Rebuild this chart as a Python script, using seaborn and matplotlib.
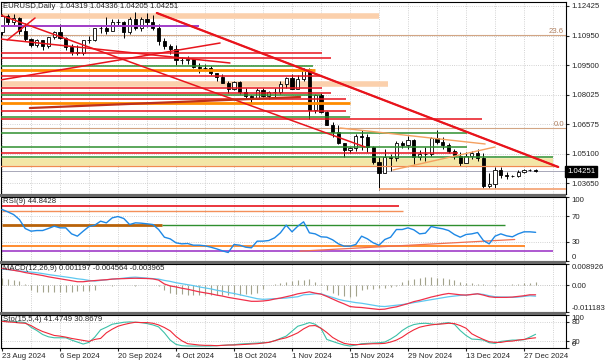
import numpy as np
import pandas as pd
import matplotlib.pyplot as plt
import seaborn as sns
from matplotlib import transforms
from matplotlib.patches import Rectangle

sns.set_style("white")
plt.rcParams['font.family'] = ['Liberation Sans', 'DejaVu Sans']
plt.rcParams['font.size'] = 5.6

# --- DỮ LIỆU: EURUSD Daily ---
dates = pd.bdate_range("2024-08-23", "2024-12-31")
open_ = [1.1112, 1.1193, 1.1161, 1.1184, 1.1118, 1.1077, 1.1048, 1.1074, 1.1045, 1.1087,
         1.1112, 1.1086, 1.1040, 1.1017, 1.1011, 1.1074, 1.1075, 1.1132, 1.1133, 1.1117,
         1.1161, 1.1163, 1.1112, 1.1180, 1.1134, 1.1177, 1.1165, 1.1135, 1.1068, 1.1045,
         1.1032, 1.0975, 1.0975, 1.0978, 1.0940, 1.0936, 1.0937, 1.0909, 1.0891, 1.0860,
         1.0833, 1.0867, 1.0818, 1.0797, 1.0782, 1.0828, 1.0797, 1.0815, 1.0816, 1.0856,
         1.0884, 1.0834, 1.0882, 1.0930, 1.0729, 1.0801, 1.0718, 1.0655, 1.0621, 1.0564,
         1.0529, 1.0541, 1.0598, 1.0596, 1.0543, 1.0471, 1.0418, 1.0496, 1.0488, 1.0566,
         1.0553, 1.0577, 1.0497, 1.0512, 1.0510, 1.0587, 1.0567, 1.0554, 1.0527, 1.0502,
         1.0466, 1.0500, 1.0513, 1.0490, 1.0352, 1.0362, 1.0430, 1.0408, 1.0400, 1.0402,
         1.0421, 1.0430, 1.04319]
high = [1.1201, 1.1201, 1.1202, 1.1189, 1.1156, 1.1086, 1.1078, 1.1076, 1.1090, 1.1120,
        1.1155, 1.1090, 1.1052, 1.1050, 1.1076, 1.1096, 1.1136, 1.1147, 1.1189, 1.1180,
        1.1180, 1.1168, 1.1187, 1.1214, 1.1190, 1.1209, 1.1196, 1.1154, 1.1084, 1.1053,
        1.1049, 1.0988, 1.0996, 1.0982, 1.0961, 1.0955, 1.0944, 1.0912, 1.0905, 1.0872,
        1.0872, 1.0869, 1.0836, 1.0804, 1.0838, 1.0838, 1.0823, 1.0835, 1.0870, 1.0890,
        1.0905, 1.0901, 1.0937, 1.0937, 1.0806, 1.0810, 1.0722, 1.0668, 1.0655, 1.0566,
        1.0545, 1.0608, 1.0630, 1.0608, 1.0547, 1.0497, 1.0536, 1.0511, 1.0576, 1.0572,
        1.0597, 1.0584, 1.0532, 1.0546, 1.0596, 1.0630, 1.0594, 1.0565, 1.0533, 1.0519,
        1.0522, 1.0525, 1.0535, 1.0515, 1.0416, 1.0445, 1.0446, 1.0420, 1.0406, 1.0433,
        1.0437, 1.0438, 1.04336]
low = [1.1100, 1.1150, 1.1150, 1.1106, 1.1068, 1.1040, 1.1040, 1.1026, 1.1036, 1.1079,
       1.1077, 1.1027, 1.1002, 1.1002, 1.1001, 1.1060, 1.1070, 1.1110, 1.1102, 1.1117,
       1.1145, 1.1083, 1.1105, 1.1126, 1.1120, 1.1139, 1.1126, 1.1047, 1.1030, 1.1003,
       1.0951, 1.0954, 1.0957, 1.0936, 1.0913, 1.0925, 1.0902, 1.0872, 1.0859, 1.0812,
       1.0829, 1.0809, 1.0785, 1.0761, 1.0780, 1.0791, 1.0780, 1.0788, 1.0806, 1.0839,
       1.0833, 1.0834, 1.0870, 1.0683, 1.0714, 1.0713, 1.0654, 1.0595, 1.0561, 1.0496,
       1.0513, 1.0525, 1.0530, 1.0520, 1.0460, 1.0332, 1.0418, 1.0426, 1.0474, 1.0540,
       1.0537, 1.0461, 1.0478, 1.0473, 1.0500, 1.0557, 1.0535, 1.0515, 1.0484, 1.0452,
       1.0465, 1.0486, 1.0477, 1.0343, 1.0342, 1.0343, 1.0391, 1.0385, 1.0396, 1.0395,
       1.0415, 1.0426, 1.04205]
close = [1.1193, 1.1161, 1.1184, 1.1118, 1.1077, 1.1048, 1.1074, 1.1045, 1.1087, 1.1112,
         1.1086, 1.1040, 1.1017, 1.1011, 1.1074, 1.1075, 1.1132, 1.1133, 1.1117, 1.1161,
         1.1163, 1.1112, 1.1180, 1.1134, 1.1177, 1.1165, 1.1135, 1.1068, 1.1045, 1.1032,
         1.0975, 1.0975, 1.0978, 1.0940, 1.0936, 1.0937, 1.0909, 1.0891, 1.0860, 1.0833,
         1.0867, 1.0818, 1.0797, 1.0782, 1.0828, 1.0797, 1.0815, 1.0816, 1.0856, 1.0884,
         1.0834, 1.0882, 1.0930, 1.0729, 1.0801, 1.0718, 1.0655, 1.0621, 1.0564, 1.0529,
         1.0541, 1.0598, 1.0596, 1.0543, 1.0471, 1.0418, 1.0496, 1.0488, 1.0566, 1.0553,
         1.0577, 1.0497, 1.0512, 1.0510, 1.0587, 1.0567, 1.0554, 1.0527, 1.0502, 1.0466,
         1.0500, 1.0513, 1.0490, 1.0352, 1.0362, 1.0430, 1.0408, 1.0400, 1.0402, 1.0421,
         1.0430, 1.0432, 1.04251]

rsi = [80.5, 76.8, 72.6, 64.8, 50.8, 46.6, 47.6, 47.6, 50.8, 54.4,
       51.8, 51.8, 42.4, 38.8, 46.6, 53.9, 56.0, 62.2, 59.6, 67.4,
       69.5, 66.4, 57.0, 59.6, 59.1, 58.1, 57.0, 49.2, 37.2, 34.6,
       28.4, 26.8, 27.3, 24.7, 24.7, 23.7, 21.6, 19.0, 15.9, 13.3,
       25.8, 24.7, 21.6, 20.6, 31.0, 31.0, 32.0, 36.2, 44.0, 56.0,
       45.6, 54.4, 61.2, 44.0, 42.4, 37.8, 37.2, 33.1, 26.8, 23.2,
       23.2, 25.8, 38.8, 34.6, 28.4, 24.7, 33.6, 37.2, 49.2, 49.2,
       51.8, 48.7, 42.4, 43.5, 53.9, 51.8, 50.3, 47.6, 41.4, 37.2,
       41.4, 42.4, 44.5, 32.0, 26.8, 38.8, 42.4, 39.3, 37.8, 42.4,
       45.6, 45.6, 44.8]

# MACD, đơn vị 1e-3
macd_main = [7.11, 6.70, 6.29, 5.88, 5.34, 4.92, 4.51, 4.10, 3.56, 3.15,
             2.74, 2.33, 1.92, 1.50, 1.50, 1.78, 1.98, 2.19, 2.33, 2.60,
             2.74, 2.80, 2.90, 2.95, 2.90, 2.85, 2.70, 2.19, 0.55, -0.27,
             -0.68, -1.23, -1.64, -2.19, -2.74, -3.15, -3.56, -4.10, -4.51, -5.06,
             -5.47, -5.88, -6.29, -6.70, -6.70, -6.57, -6.29, -5.75, -5.34, -4.79,
             -4.24, -3.56, -3.15, -2.74, -3.28, -3.69, -4.65, -5.75, -6.84, -7.80,
             -8.89, -9.17, -9.30, -9.58, -9.85, -10.12, -9.99, -9.44, -9.03, -8.34,
             -7.66, -6.84, -6.29, -5.61, -4.92, -4.38, -3.83, -3.42, -3.69, -3.97,
             -4.10, -3.83, -3.56, -4.10, -4.79, -5.06, -5.06, -5.06, -4.92, -4.65,
             -4.38, -3.97, -3.97]
macd_signal = [6.77, 6.57, 6.29, 6.02, 5.75, 5.54, 5.27, 4.92, 4.51, 4.17,
               3.83, 3.49, 3.15, 2.74, 2.46, 2.05, 1.78, 2.05, 2.33, 2.60,
               2.74, 3.01, 3.28, 3.42, 3.21, 3.01, 2.80, 2.60, 2.05, 1.64,
               1.09, 0.68, 0.27, -0.14, -0.68, -1.09, -1.50, -2.05, -2.46, -3.01,
               -3.42, -3.97, -4.51, -5.06, -5.61, -5.88, -5.75, -5.61, -5.47, -5.34,
               -5.06, -4.79, -3.97, -3.83, -3.56, -3.56, -4.38, -5.06, -5.88, -6.43,
               -6.84, -7.25, -7.52, -7.93, -8.34, -8.76, -8.89, -8.62, -8.34, -8.07,
               -7.66, -7.25, -6.84, -6.43, -6.02, -5.61, -5.20, -4.79, -4.51, -4.24,
               -4.10, -3.83, -3.56, -3.83, -4.38, -4.79, -4.92, -4.92, -5.06, -4.92,
               -4.65, -4.38, -4.56]
macd_hist = [3.15, 2.74, 2.33, 1.78, 0.4, -2.05,
             -2.7, -2.9, -2.9, -2.7, -2.7, -2.6, -2.6, -2.5, -2.5, -2.3, -2.0,
             0.3, 0.2, -0.2, 0.3, 0.2, 0.3, -0.2, 0.2, 0.3, 0.2, -0.3, -2.0,
             -3.4, -3.6, -3.8, -4.0, -4.1, -4.1, -4.1, -4.1, -4.1, -4.1, -4.0, -4.0,
             -3.9, -3.8, -3.6, -3.4, -1.4,
             0.3, 0.7, 1.0, 1.4, 1.8, 2.1, 2.3, 2.7, 1.4, 0.4,
             -2.0, -3.4, -4.1, -4.5, -4.8, -4.5, -1.8, -1.6, -1.4, -1.2, -1.0, -0.7, -0.3,
             1.4, 2.1, 2.7, 3.0, 3.4, 3.4, 3.2, 3.0, 2.7, 2.1,
             1.2, 1.0, 0.8, 0.7, 0.5, 0.2, -0.3, 0.2, 0.3, 0.4,
             0.6, 0.8, 1.0, 1.2]

sto_main = [82, 81, 80, 79, 77, 63, 53, 41, 34, 31,
            31, 31, 24, 18, 12, 17, 33, 55, 63, 72,
            75, 78, 79, 78, 77, 74, 70, 64, 46, 24,
            11, 7, 6, 6, 6, 6, 6, 7, 8, 9,
            10, 12, 13, 14, 15, 16, 17, 22, 29, 36,
            51, 66, 71, 77, 72, 59, 26, 20, 14, 9,
            6, 9, 13, 14, 15, 16, 18, 27, 38, 53,
            64, 71, 74, 75, 73, 71, 75, 77, 72, 53,
            38, 27, 26, 24, 16, 14, 20, 22, 24, 24,
            25, 33, 41.5]
sto_signal = [81, 79, 78, 76, 75, 68, 58, 50, 44, 38,
              36, 33, 29, 26, 23, 20, 26, 29, 46, 57,
              66, 71, 75, 78, 77, 77, 75, 70, 62, 52,
              35, 22, 13, 11, 9, 8, 8, 7, 8, 9,
              9, 10, 11, 12, 13, 15, 17, 22, 27, 31,
              38, 46, 58, 67, 68, 60, 47, 32, 22, 14,
              11, 10, 11, 12, 13, 13, 14, 18, 24, 33,
              45, 55, 63, 67, 70, 72, 73, 75, 74, 68,
              60, 43, 34, 26, 19, 17, 17, 20, 21, 24,
              26, 29, 30.9]

price_ticks = [1.12425, 1.10950, 1.09500, 1.08025, 1.06575, 1.05100, 1.03650]
rsi_ticks = [0, 30, 70, 100]
macd_ticks = [-0.011183, 0.0, 0.008926]
macd_ticklabels = ['-0.011183', '0.00', '0.008926']
sto_ticks = [0, 20, 80, 100]
date_ticks = list(range(0, 93, 10))
last_price = 1.04251

# các đối tượng vẽ tay trên biểu đồ giá
red_levels = [1.10098, 1.09851, 1.08960, 1.08366, 1.08118, 1.07821, 1.07227, 1.06831, 1.05148]
red_ends = [55.2, 56.7, 55.2, 55.2, 56.7, 59.3, 59.3, 82.8, 78.6]
green_levels = [1.09455, 1.08020, 1.06930, 1.06138, 1.05445, 1.04950]
green_ends = [53.6, 55.0, 60.0, 80.2, 80.2, 95.0]
orange_levels = [1.09257, 1.07623]
orange_ends = [54.0, 60.0]
peach_levels = [1.11930, 1.08564]
peach_ends = [65.0, 66.6]
purple_level, purple_end = 1.11450, 34.0
khaki_level, khaki_end = 1.04702, 95.0
thin_orange_level, thin_orange_end = 1.04504, 95.9
support_level, support_start = 1.03366, 65.0
fib_levels = [1.10990, 1.06400]
fib_names = ['23.6', '0.0']
red_trends = [(26.7, 1.12078, 95.9, 1.04455), (-0.3, 1.11979, 62.6, 1.05445),
              (-0.3, 1.10791, 39.3, 1.09604), (-0.3, 1.08762, 37.6, 1.10593),
              (0.9, 1.10742, 5.7, 1.11831)]
darkred_trend = (4.8, 1.07375, 51.4, 1.07920)
orange_trends = [(58.3, 1.06386, 83.3, 1.05594), (67.4, 1.04307, 85.0, 1.05445)]

# RSI: mức ngang (giá trị, từ, đến)
rsi_red = (85.6, 0, 68.4)
rsi_orange = (78.9, 0, 69.1)
rsi_brown = (57.0, 0, 27.6)
rsi_green = (56.0, 27.6, 86.7)
rsi_orange2 = (23.2, 0, 90.2)
rsi_purple = (15.4, 0, 95.0)
rsi_trend = (51.4, 15.4, 88.4, 33.6)

# --- VẼ ---
W, H = 605, 363
bars = np.arange(len(dates))
o, h, l, c = map(np.array, (open_, high, low, close))
fig = plt.figure(figsize=(W / 100, H / 100), dpi=100)


def panel(top, bottom):
    a = fig.add_axes([1 / W, 1 - bottom / H, 565 / W, (bottom - top) / H])
    a.set_xlim(-0.17, 97.24)
    for s in a.spines.values():
        s.set_color('black'); s.set_linewidth(0.8)
    a.yaxis.tick_right()
    a.tick_params(axis='y', length=2, pad=2, labelsize=5.6, direction='out', right=True)
    a.tick_params(axis='x', length=0, labelbottom=False)
    for xg in range(0, 98, 5):
        a.axvline(xg, color='#c4c4c4', ls=':', lw=0.6, zorder=0)
    return a


ax = panel(2, 194)
ax_rsi = panel(197, 261)
ax_macd = panel(264, 312)
ax_sto = panel(315, 348)

# price window
ax.set_ylim(1.03118, 1.12623)
ax.set_yticks(price_ticks)
ax.set_yticklabels([f"{p:.5f}" for p in price_ticks])
for p in price_ticks:
    ax.axhline(p, color='#c4c4c4', ls=':', lw=0.6, zorder=0)

ax.hlines(peach_levels, -1, peach_ends, colors='#fbd0ac', lw=4, zorder=1)
ax.hlines(khaki_level, -1, khaki_end, colors='#f3e6a6', lw=5.5, zorder=1)

up = c >= o
body_lo = np.minimum(o, c)
body_h = np.maximum(np.abs(c - o), 0.00008)
ax.vlines(bars, l, h, color='black', lw=0.7, zorder=3)
ax.bar(bars[up], body_h[up], bottom=body_lo[up], width=0.55, color='white',
       edgecolor='black', lw=0.6, zorder=3)
ax.bar(bars[~up], body_h[~up], bottom=body_lo[~up], width=0.55, color='black',
       edgecolor='black', lw=0.6, zorder=3)

ax.hlines(fib_levels, -1, 98, colors='#d2a584', lw=0.8, zorder=2)
for lev, name in zip(fib_levels, fib_names):
    ax.text(96.9, lev, name, color='#b08060', fontsize=5.6, ha='right', va='bottom', zorder=6)
ax.hlines(red_levels, -1, red_ends, colors='#e8141c', lw=1.1, zorder=4)
ax.hlines(green_levels, -1, green_ends, colors='#2f8f2f', lw=1.1, zorder=4)
ax.hlines(orange_levels, -1, orange_ends, colors='#ff8c00', lw=2, zorder=4)
ax.hlines(purple_level, -1, purple_end, colors='#a03cc8', lw=1.4, zorder=4)
ax.hlines(thin_orange_level, -1, thin_orange_end, colors='#f08a50', lw=0.9, zorder=4)
ax.hlines(support_level, support_start, 98, colors='#f4a070', lw=1.2, zorder=4)
ax.axhline(last_price, color='#a8a8b8', lw=0.7, zorder=2)
for x0, y0, x1, y1 in red_trends:
    ax.plot([x0, x1], [y0, y1], color='#e8141c', lw=1.1, zorder=4)
ax.plot(red_trends[0][::2], red_trends[0][1::2], color='#e8141c', lw=1.6, zorder=4)
ax.plot(darkred_trend[::2], darkred_trend[1::2], color='#c0301a', lw=1.6, zorder=4)
for x0, y0, x1, y1 in orange_trends:
    ax.plot([x0, x1], [y0, y1], color='#f4a060', lw=1.0, zorder=4)

tr = transforms.blended_transform_factory(ax.transAxes, ax.transData)
ax.text(1.002, last_price, f"{last_price:.5f}", transform=tr, color='white', fontsize=5.6,
        ha='left', va='center', zorder=10, clip_on=False,
        bbox=dict(boxstyle='square,pad=0.25', fc='black', ec='black'))

# RSI window
ax_rsi.set_ylim(0, 100)
ax_rsi.set_yticks(rsi_ticks)
for v in (70, 30):
    ax_rsi.axhline(v, color='#c4c4c4', ls=':', lw=0.6, zorder=0)
for lev, x0, x1, col, lw in [(*rsi_red, '#e8141c', 1.2), (*rsi_orange, '#f4905a', 1.0),
                             (*rsi_brown, '#b8620a', 2.0), (*rsi_green, '#2f8f2f', 1.0),
                             (*rsi_orange2, '#ff8c30', 1.4), (*rsi_purple, '#a03cc8', 1.2)]:
    ax_rsi.hlines(lev, x0, x1, colors=col, lw=lw, zorder=2)
ax_rsi.plot(rsi_trend[::2], rsi_trend[1::2], color='#f07050', lw=0.9, zorder=2)
sns.lineplot(x=bars, y=rsi, ax=ax_rsi, color='#1e88e5', lw=1.0, zorder=3)

# MACD window
macd_scale = 1e-3
ax_macd.set_ylim(macd_ticks[0], macd_ticks[-1])
ax_macd.set_yticks(macd_ticks)
ax_macd.set_yticklabels(macd_ticklabels)
ax_macd.axhline(0, color='#b0b0b0', ls=':', lw=0.6, zorder=0)
ax_macd.vlines(bars, 0, np.array(macd_hist) * macd_scale, color='#a3a38c', lw=0.8, zorder=1)
sns.lineplot(x=bars, y=np.array(macd_signal) * macd_scale, ax=ax_macd, color='#5ec8f0', lw=0.9, zorder=2)
sns.lineplot(x=bars, y=np.array(macd_main) * macd_scale, ax=ax_macd, color='#f0304a', lw=0.9, zorder=3)

# Stochastic window
ax_sto.set_ylim(0, 100)
ax_sto.set_yticks(sto_ticks)
for v in (80, 20):
    ax_sto.axhline(v, color='#c4c4c4', ls=':', lw=0.6, zorder=0)
sns.lineplot(x=bars, y=sto_main, ax=ax_sto, color='#3cc0a8', lw=0.8, zorder=2)
sns.lineplot(x=bars, y=sto_signal, ax=ax_sto, color='#f02838', lw=0.8, zorder=3)
ax_sto.set_xticks(date_ticks)
ax_sto.set_xticklabels([f"{dates[i].day} {dates[i]:%b %Y}" for i in date_ticks], ha='left')
ax_sto.tick_params(axis='x', length=2, pad=1.5, labelbottom=True, labelsize=5.6, bottom=True)

for a in (ax, ax_rsi, ax_macd, ax_sto):
    a.set_xlabel(''); a.set_ylabel('')
for a in (ax_rsi, ax_macd, ax_sto):
    labs = a.get_yticklabels()
    labs[0].set_va('bottom'); labs[-1].set_va('top')

# tiêu đề các cửa sổ
fig.text(3 / W, 1 - 3 / H, "EURUSD,Daily  1.04319 1.04336 1.04205 1.04251", fontsize=5.6, va='top')
fig.text(3 / W, 1 - 198 / H, "RSI(9) 44.8428", fontsize=5.6, va='top')
fig.text(3 / W, 1 - 265 / H, "MACD(12,26,9) 0.001197 -0.004564 -0.003965", fontsize=5.6, va='top')
fig.text(3 / W, 1 - 316 / H, "Sto(15,5,4) 41.4749 30.8679", fontsize=5.6, va='top')

# vạch ngăn giữa các cửa sổ
for top in (194, 261, 312):
    fig.add_artist(Rectangle((0, 1 - (top + 3) / H), 566 / W, 3 / H, transform=fig.transFigure,
                             fc='#6a6a6a', ec='none'))

fig.savefig("out.png", dpi=100, facecolor='white')
